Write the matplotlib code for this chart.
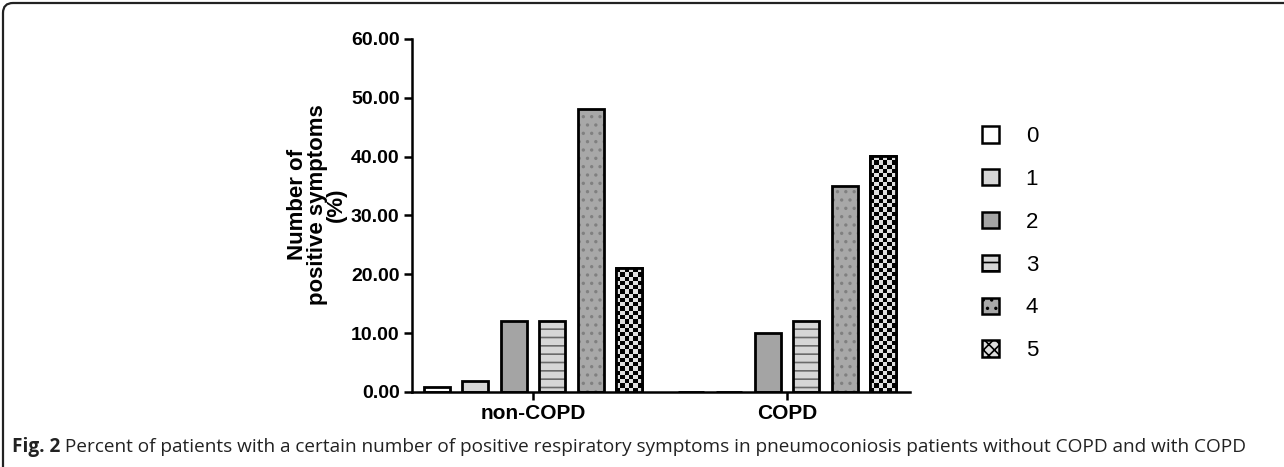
import numpy as np
import matplotlib
matplotlib.use('Agg')
import matplotlib.pyplot as plt
from matplotlib.patches import Patch, FancyBboxPatch

# Данные: процент пациентов по числу положительных симптомов
groups = ['non-COPD', 'COPD']
symptom_counts = ['0', '1', '2', '3', '4', '5']
non_copd = [0.8, 1.9, 12.1, 12.1, 48.1, 21.0]
copd = [0.0, 0.0, 10.0, 12.1, 35.0, 40.1]
yticks = [0, 10, 20, 30, 40, 50, 60]

caption_bold = 'Fig. 2'
caption_text = (' Percent of patients with a certain number of positive respiratory symptoms '
                'in pneumoconiosis patients without COPD and with COPD')

plt.rcParams['font.family'] = ['Liberation Sans', 'DejaVu Sans']
plt.rcParams['hatch.linewidth'] = 1.2

# стили столбиков: заливка, штриховка, цвет штриховки
styles = [
    dict(face='white', hatch=None, hcolor=None),
    dict(face='#d6d6d6', hatch=None, hcolor=None),
    dict(face='#a4a4a4', hatch=None, hcolor=None),
    dict(face='#d6d6d6', hatch='--', hcolor='#6a6a6a'),
    dict(face='#a8a8a8', hatch='..', hcolor='#808080'),
    dict(face='checker', hatch=None, hcolor=None),
]

fig = plt.figure(figsize=(12.84, 4.67), dpi=100)
ax = fig.add_axes([0.3209, 0.1606, 0.3879, 0.7559])

step = 0.1516
width = 0.102
ax.set_xlim(-0.476, 1.484)
ax.set_ylim(0, 60)

data = np.array([non_copd, copd])
checker_bars = []
for i in range(len(symptom_counts)):
    st = styles[i]
    xs = np.arange(len(groups)) + (i - 2.5) * step
    vals = data[:, i]
    if st['face'] == 'checker':
        bars = ax.bar(xs, vals, width, color='white', edgecolor='black', linewidth=2.0, zorder=2)
        checker_bars.extend(bars)
    elif st['hatch']:
        ax.bar(xs, vals, width, color=st['face'], edgecolor=st['hcolor'], hatch=st['hatch'],
               linewidth=0, zorder=2)
        ax.bar(xs, vals, width, fill=False, edgecolor='black', linewidth=2.0, zorder=4)
    else:
        ax.bar(xs, vals, width, color=st['face'], edgecolor='black', linewidth=2.0, zorder=2)

# шахматная заливка для "5"
for b in checker_bars:
    h = b.get_height()
    if h <= 0:
        continue
    x0, y0 = b.get_x(), b.get_y()
    p0 = ax.transData.transform((x0, y0))
    p1 = ax.transData.transform((x0 + b.get_width(), y0 + h))
    ncols = 6
    cell = (p1[0] - p0[0]) / ncols
    nrows = max(1, int(round((p1[1] - p0[1]) / cell)))
    board = (np.add.outer(np.arange(nrows), np.arange(ncols)) % 2).astype(float)
    im = ax.imshow(board, extent=[x0, x0 + b.get_width(), y0, y0 + h], origin='lower',
                   cmap=matplotlib.colors.ListedColormap(['black', '#dedede']),
                   interpolation='nearest', aspect='auto', zorder=3)
    im.set_clip_path(b)
    ax.bar(b.get_x() + b.get_width() / 2, h, b.get_width(), fill=False,
           edgecolor='black', linewidth=2.0, zorder=4)

ax.set_xlim(-0.476, 1.484)
ax.set_ylim(0, 60)

ax.set_xticks(range(len(groups)))
ax.set_xticklabels(groups, fontsize=15, fontweight='bold')
ax.set_yticks(yticks)
ax.set_yticklabels(['%.2f' % v for v in yticks], fontsize=14, fontweight='bold')
ax.tick_params(axis='both', length=6, width=1.8, direction='out', pad=3)
for s in ['top', 'right']:
    ax.spines[s].set_visible(False)
for s in ['left', 'bottom']:
    ax.spines[s].set_linewidth(1.8)

ax.set_ylabel('Number of\npositive symptoms\n(%)', fontsize=16, fontweight='bold',
              linespacing=0.9)
ax.yaxis.set_label_coords(-0.13, 0.53)

# легенда
handles = []
for st in styles:
    if st['face'] == 'checker':
        handles.append(Patch(facecolor='#dedede', edgecolor='black', hatch='xxx', linewidth=1.8))
    elif st['hatch']:
        handles.append(Patch(facecolor=st['face'], edgecolor='black', hatch=st['hatch'], linewidth=1.8))
    else:
        handles.append(Patch(facecolor=st['face'], edgecolor='black', linewidth=1.8))
ax.legend(handles, symptom_counts, loc='center left', bbox_to_anchor=(1.105, 0.42), frameon=False,
          fontsize=16, handlelength=0.75, handleheight=0.75, labelspacing=0.98, handletextpad=1.2)

# рамка подписи
frame = FancyBboxPatch((3, -40), 1400, 504, boxstyle='round,pad=0,rounding_size=10',
                       transform=None, fill=False, edgecolor='#222222', linewidth=1.6, clip_on=False)
fig.patches.append(frame)

# подпись рисунка
renderer = fig.canvas.get_renderer()
t1 = fig.text(12 / 1284, 1 - 452 / 467, caption_bold, fontsize=13.7, fontweight='bold',
              family='Open Sans', color='#222222')
bb = t1.get_window_extent(renderer)
fig.text(bb.x1 / 1284, 1 - 452 / 467, caption_text, fontsize=13.7, family='Open Sans', color='#222222')

fig.savefig('out.png', dpi=100)
